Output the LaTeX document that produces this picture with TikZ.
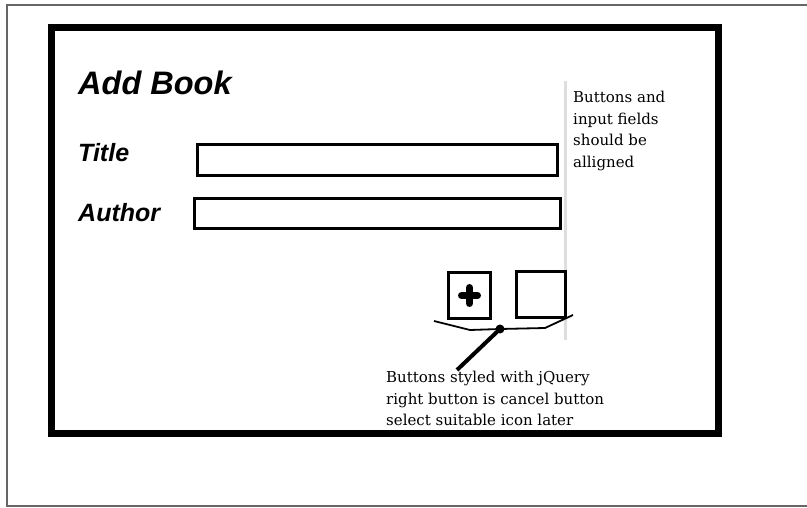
\documentclass[tikz,border=0pt]{standalone}
\usepackage{fontspec}
\setmainfont{Liberation Sans}
\newfontfamily\notefont{DejaVu Serif}
\begin{document}
\begin{tikzpicture}[x=1pt,y=-1pt,
  field/.style={draw=black,line width=3pt,fill=white},
  btn/.style={draw=black,line width=3pt},
  heading/.style={font=\fontsize{32.5}{36}\selectfont\bfseries\itshape,inner sep=0pt,anchor=base west},
  label/.style={font=\fontsize{25}{30}\selectfont\bfseries\itshape,inner sep=0pt,anchor=base west},
  note/.style={font=\notefont\fontsize{15}{21.7}\selectfont,inner sep=0pt,align=left,anchor=north west,text=black}]
\useasboundingbox (0,0) rectangle (807,508);
\clip (0,0) rectangle (807,508);
% outer page frame
\draw[draw=black!60,line width=1.3pt] (812,5) -- (7,5) -- (7,506) -- (812,506);
% thick frame
\draw[line width=7pt] (51,27.5) rectangle (718.5,433.5);
% headings
\node[heading] (head) at (78,95) {Add Book};
\node[label] (ltitle) at (78,162) {Title};
\node[label] (lauthor) at (78,222) {Author};
% fields
\node[field,minimum width=360pt,minimum height=31pt,anchor=north west] (ftitle) at (196,143) {};
\node[field,minimum width=366pt,minimum height=30pt,anchor=north west] (fauthor) at (193,197) {};
% grey divider
\draw[draw=black!13,line width=3pt] (565,81) -- (565,340);
% note right
\node[note] (noteA) at (573,91) {Buttons and\\input fields\\should be\\alligned};
% buttons
\node[btn,minimum width=42pt,minimum height=46pt,anchor=north west] (bplus) at (447,271) {};
\node[btn,minimum width=49pt,minimum height=46pt,anchor=north west] (bcancel) at (515,270) {};
\draw[line width=7pt,line cap=round] ([xshift=-8pt]bplus.center) -- ([xshift=8pt]bplus.center);
\draw[line width=7pt,line cap=round] ([yshift=-8pt]bplus.center) -- ([yshift=8pt]bplus.center);
% bracket
\coordinate (brA) at (434,321);
\coordinate (brB) at (470,330);
\coordinate (dot) at (500,329);
\coordinate (brC) at (545,328);
\coordinate (brD) at (573,315);
\draw[line width=1.8pt] (brA) -- (brB) -- (dot) -- (brC) -- (brD);
\fill (dot) circle (4.5pt);
% bottom note
\node[note] (noteB) at (386,371) {Buttons styled with jQuery\\right button is cancel button\\select suitable icon later};
\draw[line width=4pt] (dot) -- (457,370);
\end{tikzpicture}
\end{document}
